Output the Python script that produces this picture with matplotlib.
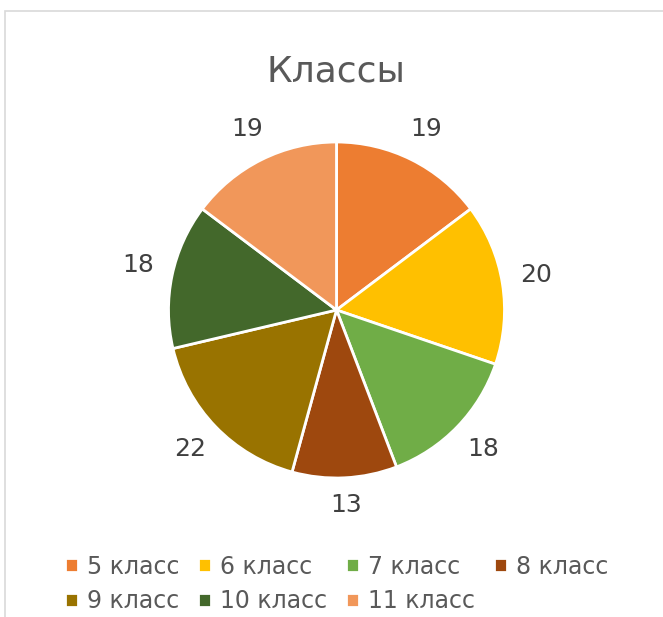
import numpy as np
import matplotlib.pyplot as plt
from matplotlib.patches import Rectangle

labels = ["5 класс", "6 класс", "7 класс", "8 класс", "9 класс", "10 класс", "11 класс"]
values = [19, 20, 18, 13, 22, 18, 19]
colors = ["#ED7D31", "#FFC000", "#70AD47", "#9E480E", "#997300", "#43682B", "#F1975A"]

text_color = "#595959"
label_color = "#404040"
plt.rcParams['font.family'] = ['DejaVu Sans']

W, H = 663, 617
fig = plt.figure(figsize=(W / 100, H / 100), dpi=100)

# chart frame
fig.patches.append(Rectangle((5 / W, -0.1), 1.1, 1 - 11 / H + 0.1, transform=fig.transFigure,
                             facecolor="none", edgecolor="#D9D9D9", linewidth=1.2, zorder=-1))

cx, cy, r = 336.5, 310, 168
ax = fig.add_axes([(cx - r) / W, (H - cy - r) / H, 2 * r / W, 2 * r / H])
wedges, texts = ax.pie(values, labels=[str(v) for v in values], colors=colors, startangle=90,
                       counterclock=False, labeldistance=1.2,
                       wedgeprops=dict(edgecolor="white", linewidth=2),
                       textprops=dict(color=label_color, fontsize=18))
ax.set_xlim(-1, 1)
ax.set_ylim(-1, 1)
ax.set_aspect("equal")

# put each value label a fixed gap outside the rim (like Excel's outside-end labels)
renderer = fig.canvas.get_renderer()
gap = 17
for w, t in zip(wedges, texts):
    t.set_horizontalalignment("center")
    t.set_verticalalignment("center")
    bb = t.get_window_extent(renderer)
    ang = np.deg2rad((w.theta1 + w.theta2) / 2)
    c, s = np.cos(ang), np.sin(ang)
    d = 1 + (gap + abs(c) * bb.width / 2 + abs(s) * bb.height * 0.4) / r
    t.set_position((d * c, d * s + 0.02 * abs(c)))

fig.text(0.507, 1 - 82 / H, "Классы", ha="center", va="baseline", fontsize=26, color=text_color)

# row-major order for the legend
order = [0, 4, 1, 5, 2, 6, 3]
fig.legend([wedges[i] for i in order], [labels[i] for i in order], loc="center",
           bbox_to_anchor=(336.5 / W, 1 - 584 / H), ncol=4, frameon=False,
           fontsize=17, labelcolor=text_color, handlelength=0.55, handleheight=0.55,
           handletextpad=0.38, columnspacing=0.8, labelspacing=0.45)

fig.savefig("out.png", dpi=100)
